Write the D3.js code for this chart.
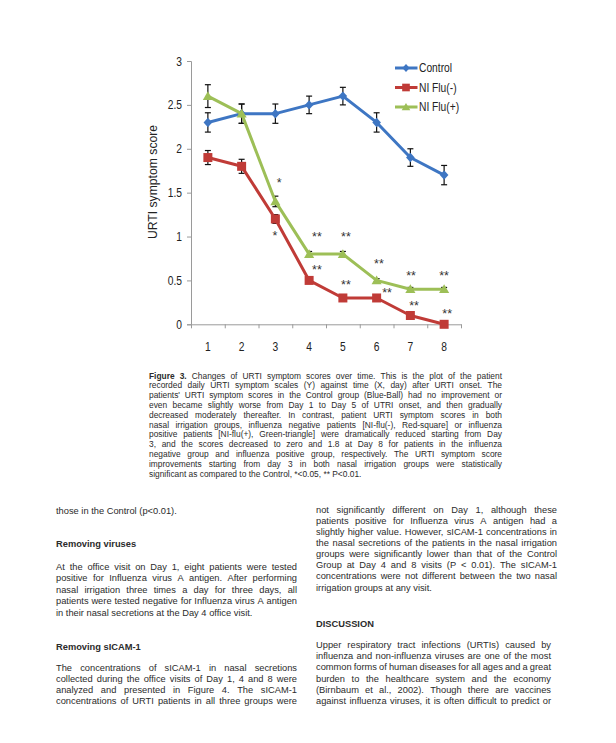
<!DOCTYPE html>
<html>
<head>
<meta charset="utf-8">
<script src="https://cdn.jsdelivr.net/npm/d3@7"></script>
<style>
  html, body { margin: 0; padding: 0; background: #ffffff; }
  svg { display: block; }
</style>
</head>
<body>
<svg id="page" width="616" height="743"></svg>
<script>
// ---------------- data ----------------
const days = ["1", "2", "3", "4", "5", "6", "7", "8"];
const seriesNames = ["Control", "NI Flu(-)", "NI Flu(+)"];
const controlValues = [2.3, 2.4, 2.4, 2.5, 2.6, 2.3, 1.9, 1.7];
const controlErrors = [0.11, 0.11, 0.11, 0.1, 0.1, 0.11, 0.1, 0.11];
const fluNegValues = [1.9, 1.8, 1.2, 0.5, 0.3, 0.3, 0.1, 0.0];
const fluNegErrors = [0.08, 0.08, 0.05, 0.03, 0.02, 0.02, 0.02, 0.0];
const fluPosValues = [2.6, 2.4, 1.4, 0.8, 0.8, 0.5, 0.4, 0.4];
const fluPosErrors = [0.13, 0.11, 0.06, 0.03, 0.03, 0.02, 0.02, 0.02];
const yTickValues = [0, 0.5, 1, 1.5, 2, 2.5, 3];
const yTickLabels = ["0", "0.5", "1", "1.5", "2", "2.5", "3"];
const yAxisTitle = "URTI symptom score";
// significance marks (position in day units / score units)
const starDay = [3.11, 2.99, 4.23, 4.23, 5.09, 5.09, 6.07, 6.31, 7.02, 7.11, 8.0, 8.09];
const starScore = [1.64, 1.04, 1.03, 0.65, 1.03, 0.48, 0.72, 0.39, 0.58, 0.24, 0.58, 0.15];
const starText = ["*", "*", "**", "**", "**", "**", "**", "**", "**", "**", "**", "**"];

// ---------------- layout ----------------
const svg = d3.select("#page");
const sans = "'Liberation Sans', Arial, Helvetica, sans-serif";
const squeeze = 0.82; // narrow look of the chart labels
const colors = ["#3E76C3", "#C03B37", "#9DBF57"];

const x = d3.scaleBand().domain(days).range([191, 461]).padding(0);
const xEdge = d3.scaleLinear().domain([0, days.length]).range([191, 461]);
const cx = d => x(d) + x.bandwidth() / 2;
const xDay = d3.scaleLinear().domain([1, days.length]).range([cx(days[0]), cx(days[days.length - 1])]);
const y = d3.scaleLinear().domain([0, 3]).range([324.3, 61]);

const chart = svg.append("g");

// y axis
const yAxis = chart.append("g").attr("transform", "translate(191,0)")
  .call(d3.axisLeft(y).tickValues(yTickValues).tickFormat((d, i) => yTickLabels[i]).tickSize(4).tickPadding(5));
yAxis.select(".domain").attr("stroke", "#9a9a9a");
yAxis.selectAll(".tick line").attr("stroke", "#9a9a9a");
yAxis.selectAll(".tick text").attr("font-family", sans).attr("font-size", 12.5).attr("fill", "#222")
  .attr("x", -9 / squeeze).attr("transform", `scale(${squeeze},1)`);

// x axis (boundary ticks)
const xAxisTicks = chart.append("g").attr("transform", "translate(0,324.3)")
  .call(d3.axisBottom(xEdge).tickValues(d3.range(0, days.length + 1)).tickFormat("").tickSize(4).tickSizeOuter(0));
xAxisTicks.select(".domain").attr("stroke", "#9a9a9a");
xAxisTicks.selectAll(".tick line").attr("stroke", "#9a9a9a");
// x labels
const xAxisLabels = chart.append("g").attr("transform", "translate(0,324.3)")
  .call(d3.axisBottom(x).tickSize(0).tickPadding(18));
xAxisLabels.select(".domain").remove();
xAxisLabels.selectAll(".tick text").attr("font-family", sans).attr("font-size", 12.5).attr("fill", "#222")
  .attr("transform", `scale(${squeeze},1)`);

// y axis title
chart.append("text")
  .attr("transform", "translate(157,182) rotate(-90)")
  .attr("text-anchor", "middle")
  .attr("font-family", sans).attr("font-size", 12.2).attr("fill", "#222")
  .text(yAxisTitle);

// marker shapes
function markerPath(kind, s) {
  if (kind === 0) return `M0,${-s * 1.1}L${s},0L0,${s * 1.1}L${-s},0Z`;
  if (kind === 1) return `M${-s},${-s}H${s}V${s}H${-s}Z`;
  return `M0,${-s * 1.05}L${s * 1.1},${s * 0.85}L${-s * 1.1},${s * 0.85}Z`;
}
const markerSize = [4.3, 4.5, 4.6];

const seriesVals = [controlValues, fluNegValues, fluPosValues];
const seriesErrs = [controlErrors, fluNegErrors, fluPosErrors];

const line = d3.line().x((d, i) => cx(days[i])).y(d => y(d));

seriesVals.forEach((vals, si) => {
  const g = chart.append("g");
  const errs = seriesErrs[si];
  vals.forEach((v, i) => {
    if (errs[i] <= 0) return;
    const px = cx(days[i]);
    g.append("line").attr("x1", px).attr("x2", px).attr("y1", y(v - errs[i])).attr("y2", y(v + errs[i]))
      .attr("stroke", "#111").attr("stroke-width", 1.2);
    [v - errs[i], v + errs[i]].forEach(e => {
      g.append("line").attr("x1", px - 3).attr("x2", px + 3).attr("y1", y(e)).attr("y2", y(e))
        .attr("stroke", "#111").attr("stroke-width", 1.2);
    });
  });
  g.append("path").attr("d", line(vals)).attr("fill", "none")
    .attr("stroke", colors[si]).attr("stroke-width", 3).attr("stroke-linejoin", "round");
  g.selectAll(".m").data(vals).join("path")
    .attr("d", markerPath(si, markerSize[si]))
    .attr("transform", (d, i) => `translate(${cx(days[i])},${y(d)})`)
    .attr("fill", colors[si]);
});

// significance marks
chart.selectAll(".star").data(starText).join("text")
  .attr("x", (d, i) => xDay(starDay[i]))
  .attr("y", (d, i) => y(starScore[i]) + 7)
  .attr("text-anchor", "middle")
  .attr("font-family", sans).attr("font-size", 12.5).attr("fill", "#333")
  .text(d => d);

// legend
const legendY = [68, 87.5, 107];
seriesNames.forEach((name, si) => {
  const g = chart.append("g").attr("transform", `translate(0,${legendY[si]})`);
  g.append("line").attr("x1", 395).attr("x2", 417.5).attr("y1", 0).attr("y2", 0)
    .attr("stroke", colors[si]).attr("stroke-width", 3);
  g.append("path").attr("d", markerPath(si, markerSize[si] * 0.85)).attr("transform", "translate(406,0)")
    .attr("fill", colors[si]);
  g.append("text").attr("transform", `translate(419,4.4) scale(${squeeze},1)`)
    .attr("font-family", sans).attr("font-size", 12.5).attr("fill", "#222").text(name);
});

// ---------------- page text ----------------
function textLine(parent, str, x0, yb, width, justify, size, boldWords) {
  const words = str.split(/\s+/).filter(w => w.length);
  const t = parent.append("text").attr("y", yb).attr("font-family", sans)
    .attr("font-size", size).attr("fill", "#2b2b2b");
  const spans = words.map((w, i) => t.append("tspan")
    .attr("font-weight", (boldWords && i < boldWords) ? "bold" : null).text(w));
  const widths = spans.map(s => s.node().getComputedTextLength());
  const tmp = parent.append("text").attr("font-family", sans).attr("font-size", size).text("a a");
  const tmp2 = parent.append("text").attr("font-family", sans).attr("font-size", size).text("aa");
  const spaceW = tmp.node().getComputedTextLength() - tmp2.node().getComputedTextLength();
  tmp.remove(); tmp2.remove();
  let gap = spaceW;
  if (justify && words.length > 1) gap = (width - d3.sum(widths)) / (words.length - 1);
  let cur = x0;
  spans.forEach((s, i) => { s.attr("x", cur); cur += widths[i] + gap; });
}

function paragraph(parent, lines, x0, y0, step, width, size, justifyLastLine, boldFirst) {
  lines.forEach((l, i) => {
    const last = i === lines.length - 1;
    textLine(parent, l, x0, y0 + i * step, width, !last || justifyLastLine, size, i === 0 ? boldFirst : 0);
  });
}

const textG = svg.append("g");

const caption = [
  "Figure 3. Changes of URTI symptom scores over time. This is the plot of the patient",
  "recorded daily URTI symptom scales (Y) against time (X, day) after URTI onset. The",
  "patients' URTI symptom scores in the Control group (Blue-Ball) had no improvement or",
  "even became slightly worse from Day 1 to Day 5 of UTRI onset, and then gradually",
  "decreased moderately thereafter. In contrast, patient URTI symptom scores in both",
  "nasal irrigation groups, influenza negative patients [NI-flu(-), Red-square] or influenza",
  "positive patients [NI-flu(+), Green-triangle] were dramatically reduced starting from Day",
  "3, and the scores decreased to zero and 1.8 at Day 8 for patients in the influenza",
  "negative group and influenza positive group, respectively. The URTI symptom score",
  "improvements starting from day 3 in both nasal irrigation groups were statistically",
  "significant as compared to the Control, *<0.05, ** P<0.01."
];
paragraph(textG, caption, 149, 378.5, 9.8, 353, 8.4, false, 2);

const bodySize = 9.3;
const colW = 241;
// left column
paragraph(textG, ["those in the Control (p<0.01)."], 56, 514, 11.4, colW, bodySize, false, 0);
paragraph(textG, ["Removing viruses"], 56, 547, 11.4, colW, bodySize, false, 2);
paragraph(textG, [
  "At the office visit on Day 1, eight patients were tested",
  "positive for Influenza virus A antigen. After performing",
  "nasal irrigation three times a day for three days, all",
  "patients were tested negative for Influenza virus A antigen",
  "in their nasal secretions at the Day 4 office visit."
], 56, 569.5, 11.5, colW, bodySize, false, 0);
paragraph(textG, ["Removing sICAM-1"], 56, 649.5, 11.4, colW, bodySize, false, 2);
paragraph(textG, [
  "The concentrations of sICAM-1 in nasal secretions",
  "collected during the office visits of Day 1, 4 and 8 were",
  "analyzed and presented in Figure 4. The sICAM-1",
  "concentrations of URTI patients in all three groups were"
], 56, 670.5, 11.3, colW, bodySize, true, 0);

// right column
paragraph(textG, [
  "not significantly different on Day 1, although these",
  "patients positive for Influenza virus A antigen had a",
  "slightly higher value. However, sICAM-1 concentrations in",
  "the nasal secretions of the patients in the nasal irrigation",
  "groups were significantly lower than that of the Control",
  "Group at Day 4 and 8 visits (P < 0.01). The sICAM-1",
  "concentrations were not different between the two nasal",
  "irrigation groups at any visit."
], 316, 512.5, 11.15, colW, bodySize, false, 0);
paragraph(textG, ["DISCUSSION"], 316, 627, 11.4, colW, bodySize, false, 1);
paragraph(textG, [
  "Upper respiratory tract infections (URTIs) caused by",
  "influenza and non-influenza viruses are one of the most",
  "common forms of human diseases for all ages and a great",
  "burden to the healthcare system and the economy",
  "(Birnbaum et al., 2002). Though there are vaccines",
  "against influenza viruses, it is often difficult to predict or"
], 316, 648, 11.2, 235, bodySize, true, 0);
</script>
</body>
</html>
